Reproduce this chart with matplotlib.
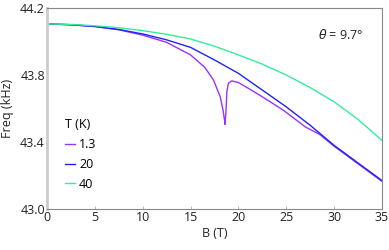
import matplotlib
matplotlib.use("Agg")
import matplotlib.pyplot as plt
import numpy as np

plt.rcParams['font.family'] = ['Open Sans', 'DejaVu Sans']

# Data
B_40 = [0, 2.5, 5, 7.5, 10, 12.5, 15, 17.5, 20, 22.5, 25, 27.5, 30, 32.5, 35]
F_40 = [44.105, 44.102, 44.094, 44.082, 44.065, 44.043, 44.015, 43.972, 43.92, 43.865, 43.80, 43.725, 43.64, 43.535, 43.41]

B_20 = [0, 2.5, 5, 7.5, 10, 12.5, 15, 17.5, 20, 22.5, 25, 27.5, 30, 32.5, 35]
F_20 = [44.105, 44.1, 44.09, 44.072, 44.045, 44.01, 43.965, 43.89, 43.81, 43.71, 43.61, 43.50, 43.38, 43.275, 43.17]

B_13 = [0, 2.5, 5, 7.5, 10, 12.5, 15, 15.5, 16.5, 17.4, 18.1, 18.4, 18.55, 18.6, 18.7, 18.8, 18.95, 19.3, 20, 21.2, 22.5, 24.7, 27, 28.5, 30, 32.5, 35]
F_13 = [44.105, 44.1, 44.089, 44.07, 44.038, 43.995, 43.92, 43.895, 43.845, 43.77, 43.67, 43.59, 43.53, 43.505, 43.58, 43.70, 43.75, 43.765, 43.755, 43.715, 43.67, 43.59, 43.49, 43.445, 43.375, 43.27, 43.165]

labels = ["1.3", "20", "40"]
colors = ["#9933ff", "#2222ee", "#33ee99"]

fig = plt.figure(figsize=(3.89, 2.5), dpi=100)
ax = fig.add_axes([0.1208, 0.164, 0.861, 0.804])

ax.plot(B_13, F_13, color=colors[0], lw=1.0, label=labels[0])
ax.plot(B_20, F_20, color=colors[1], lw=1.0, label=labels[1])
ax.plot(B_40, F_40, color=colors[2], lw=1.0, label=labels[2])

ax.set_xlim(0, 35)
ax.set_ylim(43.0, 44.2)
ax.set_xticks([0, 5, 10, 15, 20, 25, 30, 35])
ax.set_yticks([43.0, 43.4, 43.8, 44.2])
ax.set_yticklabels(["43.0", "43.4", "43.8", "44.2"])

for s in ['top', 'right', 'bottom']:
    ax.spines[s].set_color('#888888')
    ax.spines[s].set_linewidth(0.8)
ax.spines['left'].set_color('#cccccc')
ax.spines['left'].set_linewidth(2.0)

fs = 9
ax.tick_params(axis='x', direction='in', length=2.5, width=0.6, color='#aaaaaa',
               labelsize=fs, pad=1.5, labelcolor='#222222')
ax.tick_params(axis='y', length=0, labelsize=fs, pad=1.5, labelcolor='#222222')

ax.set_xlabel("B (T)", fontsize=fs, labelpad=2, color='#222222')
ax.set_ylabel("Freq (kHz)", fontsize=fs, labelpad=4, color='#222222')

ax.text(28.3, 44.04, r"$\theta$" + " = 9.7°", fontsize=fs, va='center', ha='left', color='#222222')

leg = ax.legend(title="T (K)", frameon=False, fontsize=fs, title_fontsize=fs,
                handlelength=0.8, handletextpad=0.3, labelspacing=0.55,
                borderaxespad=0, borderpad=0,
                loc='upper left', bbox_to_anchor=(0.055, 0.452), alignment='left')

fig.savefig("out.png", dpi=100)
